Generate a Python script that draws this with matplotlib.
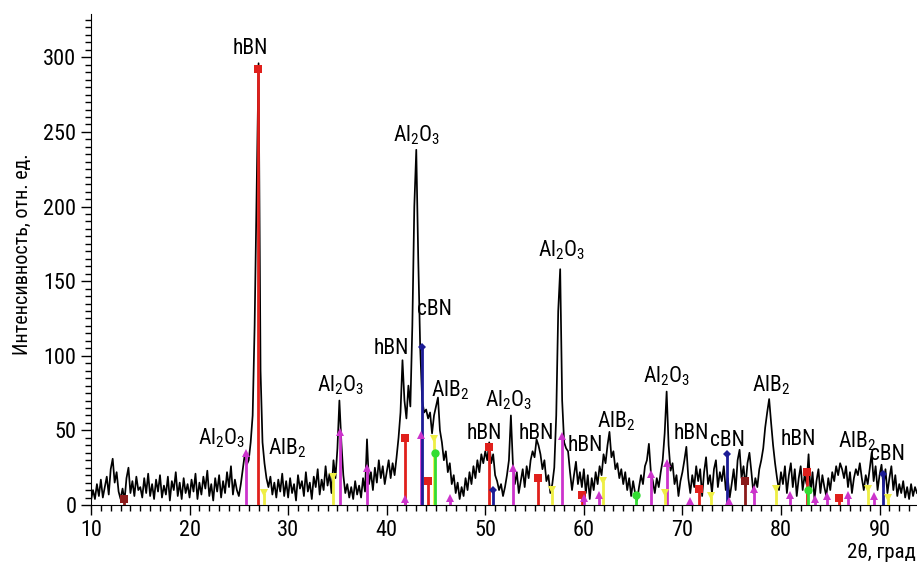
import numpy as np
import matplotlib
matplotlib.use("Agg")
import matplotlib.pyplot as plt
from matplotlib.ticker import MultipleLocator

plt.rcParams['font.family'] = ['Roboto Condensed', 'DejaVu Sans']
plt.rcParams['mathtext.fontset'] = 'custom'
plt.rcParams['mathtext.rm'] = 'Roboto Condensed'
plt.rcParams['mathtext.it'] = 'Roboto Condensed'

# ---- diffractogram (2theta step 0.2 deg, from 10.0 to 93.8) ----
two_theta_start = 10.0
two_theta_step = 0.2
intensity = [
    # 10.0 - 14.8
    3, 10, 4, 14, 6, 17, 5, 12, 19, 7, 24, 31, 15, 22, 9, 4, 11, 3, 18, 25, 8, 16, 6, 19, 10,
    # 15.0 - 19.8
    12, 5, 18, 8, 21, 6, 14, 4, 17, 9, 20, 5, 13, 7, 19, 3, 16, 10, 22, 6, 15, 4, 18, 8, 14,
    # 20.0 - 24.8
    5, 17, 9, 21, 4, 15, 7, 19, 11, 23, 6, 14, 3, 18, 9, 20, 5, 16, 8, 22, 12, 26, 7, 17, 10,
    # 25.0 - 29.8
    6, 14, 24, 34, 27, 30, 42, 60, 120, 210, 296, 90, 42, 28, 18, 12, 19, 7, 15, 5, 17, 9, 21, 6, 16,
    # 30.0 - 34.8
    5, 18, 8, 14, 3, 20, 11, 16, 6, 22, 9, 15, 4, 19, 12, 24, 7, 17, 10, 26, 13, 21, 8, 30, 18,
    # 35.0 - 39.8
    38, 70, 42, 20, 8, 14, 5, 12, 4, 16, 7, 13, 5, 18, 9, 44, 14, 22, 10, 25, 15, 30, 18, 26, 14,
    # 40.0 - 44.8
    22, 30, 18, 28, 20, 32, 45, 62, 97, 70, 58, 80, 66, 120, 200, 238, 165, 105, 70, 62, 64, 58, 62, 48, 60,
    # 45.0 - 49.8
    66, 72, 50, 42, 30, 36, 22, 28, 14, 20, 8, 15, 4, 12, 6, 18, 10, 22, 14, 26, 18, 30, 22, 34, 28,
    # 50.0 - 54.8
    36, 30, 42, 28, 34, 20, 16, 10, 14, 6, 12, 20, 30, 60, 28, 14, 22, 8, 16, 24, 12, 26, 18, 30, 36,
    # 55.0 - 59.8
    32, 44, 40, 34, 24, 30, 16, 20, 8, 14, 25, 60, 130, 158, 70, 42, 38, 36, 22, 10, 20, 29, 14, 22, 12,
    # 60.0 - 64.8
    24, 8, 20, 4, 18, 10, 22, 14, 26, 20, 34, 28, 40, 49, 32, 36, 24, 28, 18, 24, 14, 22, 10, 18, 6,
    # 65.0 - 69.8
    16, 8, 3, 12, 20, 14, 26, 30, 41, 22, 16, 8, 18, 12, 22, 30, 48, 76, 40, 23, 28, 14, 20, 6, 16,
    # 70.0 - 74.8
    22, 30, 39, 18, 8, 20, 12, 26, 16, 24, 6, 22, 32, 14, 20, 8, 24, 30, 12, 22, 16, 26, 10, 18, 5,
    # 75.0 - 79.8
    14, 24, 10, 30, 37, 18, 26, 12, 28, 35, 22, 8, 18, 12, 24, 30, 38, 52, 62, 71, 55, 40, 28, 18, 10,
    # 80.0 - 84.8
    22, 14, 26, 8, 20, 28, 12, 24, 6, 18, 26, 10, 20, 14, 34, 8, 22, 4, 16, 24, 8, 20, 12, 6, 18,
    # 85.0 - 89.8
    10, 22, 16, 26, 20, 28, 24, 18, 26, 12, 22, 8, 18, 24, 20, 28, 18, 10, 20, 14, 24, 35, 16, 26, 10,
    # 90.0 - 93.8
    20, 27, 12, 24, 8, 18, 26, 10, 20, 6, 14, 8, 16, 5, 12, 4, 14, 6, 12, 8,
]
two_theta = two_theta_start + two_theta_step * np.arange(len(intensity))

# ---- reference (stick) patterns ----
hbn_pos = [26.95, 41.9, 44.15, 50.4, 55.3, 59.8, 71.65, 82.6, 85.9]
hbn_int = [292, 45, 16, 39, 18, 7, 11, 22, 5]
al2o3_pos = [25.7, 35.3, 38.0, 41.9, 43.45, 46.4, 52.8, 57.8, 60.0, 61.5, 66.8,
             68.45, 70.8, 74.7, 77.3, 80.9, 83.5, 84.7, 86.8, 89.4]
al2o3_int = [35, 49, 25, 4, 47, 5, 25, 46, 5, 7, 21, 28, 3, 3, 11, 7, 4, 6, 7, 6]
alb2_pos = [27.55, 34.6, 44.75, 56.8, 61.9, 68.2, 72.9, 79.45, 88.8, 90.9]
alb2_int = [8, 19, 44, 10, 16, 8, 6, 11, 11, 5]
cbn_pos = [43.57, 50.74, 74.5, 90.3]
cbn_int = [106, 10, 34, 21]
green_pos = [44.85, 65.3, 82.7]
green_int = [35, 7, 10]
darkred_pos = [13.3, 76.3]
darkred_int = [4, 16]

# ---- peak labels ----
label_texts = ['hBN', 'Al$_2$O$_3$', 'AlB$_2$', 'Al$_2$O$_3$', 'Al$_2$O$_3$', 'cBN', 'hBN',
               'AlB$_2$', 'hBN', 'Al$_2$O$_3$', 'hBN', 'Al$_2$O$_3$', 'hBN', 'AlB$_2$',
               'Al$_2$O$_3$', 'hBN', 'cBN', 'AlB$_2$', 'hBN', 'AlB$_2$', 'cBN']
label_x = [26.2, 23.2, 29.9, 35.3, 43.0, 44.8, 40.5, 46.4, 49.9, 52.4, 55.2, 57.7,
           60.2, 63.3, 68.4, 70.9, 74.6, 79.0, 81.8, 87.7, 90.8]
label_y = [306, 45, 38, 80, 248, 131, 105, 77, 48, 70, 48, 171, 40, 56, 86, 48, 43, 80,
           44, 43, 34]

fig = plt.figure(figsize=(9.17, 5.65), dpi=100)
ax = fig.add_axes([91 / 917, 1 - 505 / 565, 1 - 91 / 917, (505 - 14) / 565])

ax.plot(two_theta, intensity, color='black', lw=1.25, zorder=3)

def sticks(pos, ints, color, marker, ms, lw=2.0):
    ax.vlines(pos, 0, ints, colors=color, lw=lw, zorder=4)
    ax.plot(pos, ints, ls='none', marker=marker, color=color, ms=ms, zorder=5,
            markeredgewidth=0)

sticks(hbn_pos, hbn_int, '#e0201c', 's', 5.5)
sticks(al2o3_pos, al2o3_int, '#cc33cc', '^', 6)
sticks(alb2_pos, alb2_int, '#eeee44', 'v', 6)
sticks(cbn_pos, cbn_int, '#1c1c96', 'D', 4)
sticks(green_pos, green_int, '#33dd33', 'o', 6)
sticks(darkred_pos, darkred_int, '#8b1a1a', 's', 5.5)

for t, x, y in zip(label_texts, label_x, label_y):
    ax.text(x, y, t, ha='center', va='center', fontsize=15.5, zorder=6)

ax.set_xlim(10, 93.8)
ax.set_ylim(0, 329)
ax.spines['top'].set_visible(False)
ax.spines['right'].set_visible(False)
ax.xaxis.set_major_locator(MultipleLocator(10))
ax.xaxis.set_minor_locator(MultipleLocator(1))
ax.yaxis.set_major_locator(MultipleLocator(50))
ax.yaxis.set_minor_locator(MultipleLocator(5))
ax.tick_params(which='major', length=7, width=1, labelsize=16, direction='out')
ax.tick_params(which='minor', length=4, width=1, direction='out')

ax.set_ylabel('Интенсивность, отн. ед.', fontsize=14.5)
ax.yaxis.set_label_coords(-0.071, 0.51)
fig.text(0.999, 1 - 552 / 565, '2θ, град', ha='right', va='center', fontsize=15)

fig.savefig('out.png', dpi=100)
